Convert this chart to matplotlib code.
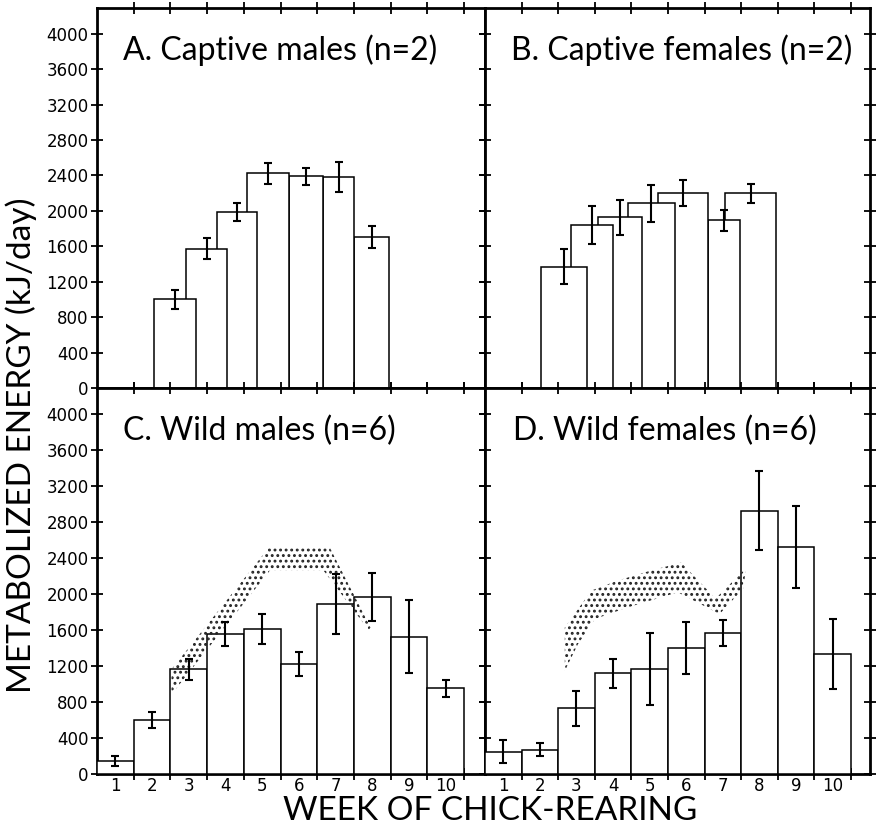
import matplotlib
matplotlib.use("Agg")
import matplotlib.pyplot as plt
from matplotlib.ticker import FixedLocator, NullFormatter

plt.rcParams['hatch.linewidth'] = 1.3

# ---------------- data ----------------
weeks = [1, 2, 3, 4, 5, 6, 7, 8, 9, 10]
week_labels = ["1", "2", "3", "4", "5", "6", "7", "8", "9", "10"]
yticks = [0, 400, 800, 1200, 1600, 2000, 2400, 2800, 3200, 3600, 4000]

# Captive males: bar spans in weeks (start, end), mean and SE
cm_start = [2.05, 2.93, 3.77, 4.59, 5.73, 6.66, 7.50]
cm_end = [3.20, 4.04, 4.86, 5.73, 6.66, 7.50, 8.46]
cm_mean = [1000, 1570, 1985, 2425, 2390, 2380, 1705]
cm_err = [105, 118, 102, 118, 95, 170, 124]

# Captive females
cf_start = [2.02, 2.84, 3.58, 4.40, 5.22, 6.58, 7.07]
cf_end = [3.28, 3.99, 4.78, 5.68, 6.58, 7.48, 8.44]
cf_mean = [1370, 1840, 1925, 2085, 2200, 1895, 2200]
cf_err = [198, 215, 198, 210, 145, 120, 107]

# Wild males
wm_mean = [145, 600, 1165, 1555, 1610, 1220, 1890, 1965, 1525, 955]
wm_err = [55, 85, 115, 130, 170, 135, 330, 265, 405, 95]

# Wild females
wf_mean = [248, 272, 730, 1118, 1172, 1402, 1566, 2928, 2518, 1332]
wf_err = [130, 70, 195, 158, 400, 290, 140, 437, 455, 392]

# Stippled bands (week, kJ/day)
wm_band_upper_x = [2.53, 5.17, 6.85, 7.95]
wm_band_upper_y = [1164, 2510, 2510, 1630]
wm_band_lower_x = [2.53, 5.21, 6.67, 7.90]
wm_band_lower_y = [885, 2262, 2262, 1600]

wf_band_upper_x = [2.68, 3.41, 4.13, 5.04, 5.86, 6.80, 7.64]
wf_band_upper_y = [1629, 2039, 2150, 2262, 2350, 1950, 2290]
wf_band_lower_x = [2.68, 3.04, 3.50, 4.41, 5.77, 6.91, 7.55]
wf_band_lower_y = [1146, 1443, 1722, 1853, 2020, 1778, 2057]

titles = ["A. Captive males (n=2)", "B. Captive females (n=2)",
          "C. Wild males (n=6)", "D. Wild females (n=6)"]

# ---------------- figure ----------------
W, H = 876, 830
fig = plt.figure(figsize=(W / 100, H / 100), dpi=100)

xl, xm, xr = 97 / W, 485 / W, 870 / W
yt, ym, yb = 1 - 8 / H, 1 - 388 / H, 1 - 774 / H

axA = fig.add_axes([xl, ym, xm - xl, yt - ym])
axB = fig.add_axes([xm, ym, xr - xm, yt - ym])
axC = fig.add_axes([xl, yb, xm - xl, ym - yb])
axD = fig.add_axes([xm, yb, xr - xm, ym - yb])

title_font = dict(family="Lato", fontweight="normal", fontsize=23, color="black")

def style(ax, show_ylabels, show_xlabels, xmax):
    ax.set_xlim(0.5, xmax)
    ax.set_ylim(0, 4290)
    for s in ax.spines.values():
        s.set_linewidth(2.0)
    ax.yaxis.set_major_locator(FixedLocator(yticks))
    ax.xaxis.set_major_locator(FixedLocator([w + 0.5 for w in weeks]))
    ax.xaxis.set_major_formatter(NullFormatter())
    ax.xaxis.set_minor_locator(FixedLocator(weeks))
    if show_xlabels:
        ax.xaxis.set_minor_formatter(plt.FixedFormatter(week_labels))
    else:
        ax.xaxis.set_minor_formatter(NullFormatter())
    ax.tick_params(axis="both", which="major", direction="inout", length=8,
                   width=1.3, top=True, right=True, left=True, bottom=True)
    ax.tick_params(axis="x", which="minor", length=0, pad=2, labelsize=12)
    if show_ylabels:
        ax.set_yticklabels([str(t) for t in yticks], fontsize=12)
        ax.tick_params(axis="y", pad=2)
    else:
        ax.set_yticklabels([])

style(axA, True, False, 11.07)
style(axB, False, False, 11.02)
style(axC, True, True, 11.07)
style(axD, False, True, 11.02)

def span_bars(ax, start, end, mean, err):
    n = len(start)
    for i in range(n):
        z = 10 + (n - i)
        w = end[i] - start[i]
        ax.bar(start[i], mean[i], width=w, align="edge", facecolor="white",
               edgecolor="black", linewidth=1.1, zorder=z)
        ax.errorbar(start[i] + w / 2, mean[i], yerr=err[i], fmt="none",
                    ecolor="black", elinewidth=1.5, capsize=3.2, capthick=1.5,
                    zorder=z + 0.5)

def week_bars(ax, mean, err):
    ax.bar(weeks, mean, width=1.0, facecolor="white", edgecolor="black",
           linewidth=1.1, zorder=10)
    ax.errorbar(weeks, mean, yerr=err, fmt="none", ecolor="black",
                elinewidth=1.5, capsize=3.2, capthick=1.5, zorder=12)

def band(ax, ux, uy, lx, ly):
    xs = list(ux) + list(lx)[::-1]
    ys = list(uy) + list(ly)[::-1]
    ax.fill(xs, ys, facecolor="none", edgecolor="#222222", hatch="...",
            linewidth=0, zorder=11)

span_bars(axA, cm_start, cm_end, cm_mean, cm_err)
span_bars(axB, cf_start, cf_end, cf_mean, cf_err)
week_bars(axC, wm_mean, wm_err)
week_bars(axD, wf_mean, wf_err)
band(axC, wm_band_upper_x, wm_band_upper_y, wm_band_lower_x, wm_band_lower_y)
band(axD, wf_band_upper_x, wf_band_upper_y, wf_band_lower_x, wf_band_lower_y)

for ax, t, x in zip([axA, axB, axC, axD], titles, [0.067, 0.068, 0.067, 0.073]):
    ax.text(x, 0.89, t, transform=ax.transAxes, ha="left", va="center",
            zorder=20, **title_font)

fig.text(0.024, 0.464, "METABOLIZED ENERGY (kJ/day)", rotation=90,
         ha="center", va="center", family="Lato", fontweight="normal",
         fontsize=24, color="black")
fig.text(0.56, 0.023, "WEEK OF CHICK-REARING", ha="center", va="center",
         family="Lato", fontweight="normal", fontsize=24, color="black")

fig.savefig("out.png", dpi=100)
